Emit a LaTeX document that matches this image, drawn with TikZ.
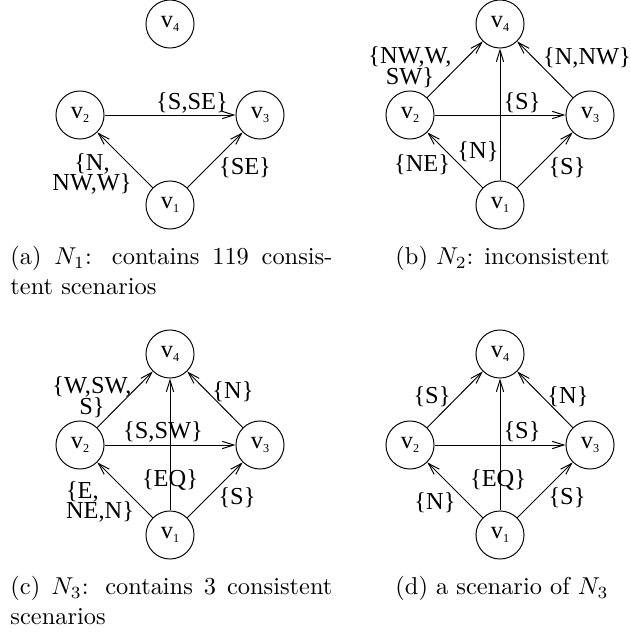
\documentclass[tikz,border=0pt]{standalone}
\usepackage{fontspec}
\usepackage{tikz}
\usetikzlibrary{arrows.meta}
\newfontfamily\figfont{LiberationSerif-Regular.ttf}
\newcommand{\vx}[1]{v\raisebox{-0.3ex}{\fontsize{5}{5}\selectfont #1}}

\begin{document}
\begin{tikzpicture}[x=0.41pt,y=-0.41pt,
      vert/.style={draw,thin,circle,minimum size=19.7pt,inner sep=0pt,
        font=\figfont\fontsize{10}{12}\selectfont},
      lab/.style={inner sep=0pt,align=center,font=\figfont\fontsize{10}{8.5}\selectfont},
      arr/.style={-{Straight Barb[length=4.8pt,width=3pt]},thin},
      capt/.style={anchor=north west,inner sep=0pt,font=\fontsize{10}{12}\selectfont}]
    \useasboundingbox (0,0) rectangle (630,633);
    % four copies of the same vertices
    \foreach \p/\x/\y in {a/170/205,b/500/205,c/170/535,d/500/535}{
      \node[vert](\p1) at (\x,\y){\vx{1}};
      \node[vert](\p2) at (\x-90,\y-90){\vx{2}};
      \node[vert](\p3) at (\x+90,\y-90){\vx{3}};
      \node[vert](\p4) at (\x,\y-181){\vx{4}};
    }
    \draw[arr](a2)--(a3); \draw[arr](a1)--(a2); \draw[arr](a1)--(a3);
    \foreach \p in {b,c,d}{
      \draw[arr](\p2)--(\p3); \draw[arr](\p1)--(\p2); \draw[arr](\p1)--(\p3);
      \draw[arr](\p2)--(\p4); \draw[arr](\p1)--(\p4); \draw[arr](\p3)--(\p4);
    }
    % (a)
    \node[lab](la23) at (192,103){\{S,SE\}};
    \node[lab](la12) at (92,174){\{N,\\NW,W\}};
    \node[lab](la13) at (245,168){\{SE\}};
    % (b)
    \node[lab](lb24) at (410,67){\{NW,W,\\SW\}};
    \node[lab](lb34) at (587,58){\{N,NW\}};
    \node[lab](lb23) at (522,103){\{S\}};
    \node[lab](lb14) at (478,152){\{N\}};
    \node[lab](lb12) at (422,165){\{NE\}};
    \node[lab](lb13) at (567,168){\{S\}};
    % (c)
    \node[lab](lc24) at (92,397){\{W,SW,\\S\}};
    \node[lab](lc34) at (233,392){\{N\}};
    \node[lab](lc23) at (163,432){\{S,SW\}};
    \node[lab](lc14) at (170,480){\{EQ\}};
    \node[lab,align=left](lc12) at (100,502){\{E,\\NE,N\}};
    \node[lab](lc13) at (237,498){\{S\}};
    % (d)
    \node[lab](ld24) at (432,397){\{S\}};
    \node[lab](ld34) at (568,397){\{N\}};
    \node[lab](ld23) at (522,432){\{S\}};
    \node[lab](ld14) at (498,480){\{EQ\}};
    \node[lab](ld12) at (435,503){\{N\}};
    \node[lab](ld13) at (567,498){\{S\}};
    % captions
    \node[capt,text width=132pt,align=justify](capa) at (10,246)
      {(a) $N_1$: contains 119 consis-\linebreak tent scenarios};
    \node[capt](capb) at (395,246){(b) $N_2$: inconsistent};
    \node[capt,text width=132pt,align=justify](capc) at (10,576)
      {(c) $N_3$: contains 3 consistent\linebreak scenarios};
    \node[capt](capd) at (395,576){(d) a scenario of $N_3$};
\end{tikzpicture}
\end{document}
